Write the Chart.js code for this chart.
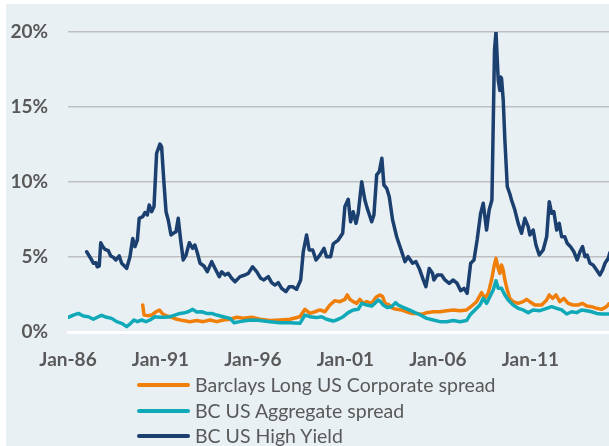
<!DOCTYPE html>
<html>
<head>
<meta charset="utf-8">
<script src="https://cdn.jsdelivr.net/npm/chart.js@4/dist/chart.umd.min.js"></script>
<style>
  html, body { margin: 0; padding: 0; background: #ffffff; }
  #panel { position: absolute; left: 6px; top: 4px; width: 603px; height: 442px; background: #e8f0f4; overflow: hidden; }
  #chart { position: absolute; left: 0; top: 0; }
  #legend { position: absolute; left: 0; top: 0; font-family: Lato, "Open Sans", sans-serif; font-size: 19.5px; color: #595959; }
  .row { position: absolute; left: 131px; height: 24px; white-space: nowrap; }
  .swatch { position: absolute; left: 0; top: 10px; width: 53px; height: 4px; border-radius: 2px; }
  .label { position: absolute; left: 58px; top: 0; line-height: 24px; }
</style>
</head>
<body>
<div id="panel">
  <canvas id="chart" width="603" height="442"></canvas>
  <div id="legend"></div>
</div>
<script>
// ---- data (decimal years / percent) ----
const hyDates = [1987.01,1987.28,1987.37,1987.51,1987.58,1987.69,1987.77,1987.88,
  1988.00,1988.18,1988.31,1988.45,1988.59,1988.77,1988.90,
  1989.08,1989.17,1989.35,1989.50,1989.62,1989.75,1989.85,
  1990.04,1990.16,1990.29,1990.39,1990.52,1990.65,1990.79,1990.97,
  1991.06,1991.19,1991.30,1991.42,1991.57,1991.69,1991.84,1991.96,
  1992.09,1992.23,1992.38,1992.56,1992.74,1992.86,1992.99,
  1993.14,1993.35,1993.53,1993.77,1993.95,
  1994.18,1994.31,1994.49,1994.66,1994.85,
  1995.03,1995.30,1995.57,1995.75,1995.98,
  1996.20,1996.42,1996.59,1996.83,
  1997.01,1997.19,1997.37,1997.55,1997.78,1997.96,
  1998.15,1998.36,1998.58,1998.72,1998.90,
  1999.04,1999.23,1999.41,1999.62,1999.84,1999.98,
  2000.20,2000.34,2000.61,2000.85,2000.97,
  2001.15,2001.28,2001.42,2001.57,2001.69,2001.88,
  2002.05,2002.18,2002.42,2002.54,2002.69,2002.83,2002.97,
  2003.08,2003.23,2003.37,2003.55,2003.77,2003.98,
  2004.22,2004.39,2004.63,2004.81,2004.99,
  2005.21,2005.35,2005.53,2005.71,2005.78,2005.96,
  2006.20,2006.38,2006.61,2006.83,
  2007.04,2007.23,2007.41,2007.58,2007.77,2007.95,
  2008.12,2008.31,2008.45,2008.63,2008.77,2008.92,
  2009.06,2009.14,2009.26,2009.35,2009.39,2009.44,2009.53,2009.62,2009.75,2009.89,2009.98,
  2010.16,2010.34,2010.52,2010.70,2010.88,2010.97,
  2011.15,2011.30,2011.48,2011.69,2011.88,
  2012.02,2012.15,2012.27,2012.42,2012.56,2012.69,2012.86,2012.99,
  2013.17,2013.35,2013.53,2013.68,2013.82,2013.95,
  2014.07,2014.22,2014.39,2014.58,2014.76,2014.90,
  2015.03,2015.21,2015.30];
const hyValues = [5.35,4.8,4.58,4.62,4.35,4.4,5.95,5.69,
  5.51,5.42,5.07,4.98,4.8,5.07,4.58,
  4.36,4.24,5.02,6.24,5.69,6.13,7.58,
  7.69,7.96,7.8,8.47,8.02,8.36,11.91,12.53,
  12.36,9.91,8.02,7.47,6.47,6.58,6.69,7.58,
  6.13,4.8,5.13,5.95,5.58,5.8,5.29,
  4.58,4.4,4.02,4.69,4.24,
  3.69,4.02,3.8,3.91,3.58,
  3.35,3.69,3.8,3.91,4.35,
  4.02,3.58,3.47,3.69,
  3.29,3.13,3.29,2.91,2.69,3.02,
  3.02,2.85,3.47,5.35,6.47,
  5.47,5.47,4.8,5.13,5.58,5.02,
  5.02,5.87,6.13,6.58,8.36,
  8.85,7.35,8.02,7.24,7.91,10.02,
  8.8,8.24,7.35,7.8,10.47,10.69,11.58,
  9.8,9.58,9.02,7.47,6.35,5.58,
  4.69,5.02,4.58,4.69,4.24,
  3.47,3.02,4.24,3.91,3.47,3.8,
  3.8,3.47,3.24,3.47,
  3.24,2.75,2.91,2.58,4.58,4.8,
  6.13,7.91,8.58,6.8,8.13,8.8,
  18.8,20.0,16.8,16.1,17.0,16.9,15.5,12.8,9.7,9.2,8.8,
  8.13,7.24,6.58,7.58,7.02,6.47,
  6.8,5.8,5.13,5.47,6.35,
  8.69,7.91,8.02,6.8,7.24,6.35,6.35,5.91,
  5.69,5.35,4.8,5.35,5.69,5.02,
  5.13,4.58,4.47,4.13,3.8,4.13,
  4.58,4.91,5.3];

const aggDates = [1986.02,1986.29,1986.56,1986.83,1987.10,1987.37,1987.64,1987.82,
  1988.09,1988.36,1988.63,1988.90,1989.17,1989.39,1989.57,1989.75,1989.98,
  1990.22,1990.43,1990.70,1990.97,1991.24,1991.51,1991.78,
  1992.05,1992.32,1992.50,1992.74,1992.96,1993.23,1993.50,1993.77,
  1994.04,1994.39,1994.76,1994.97,1995.30,1995.66,1996.02,1996.38,1996.92,
  1997.46,1998.00,1998.54,1998.81,1999.08,1999.44,1999.71,1999.98,
  2000.34,2000.61,2000.88,2001.15,2001.42,2001.69,2001.88,
  2002.15,2002.42,2002.59,2002.77,2002.90,2003.04,2003.26,2003.50,2003.71,2003.85,
  2004.12,2004.45,2004.76,2005.03,2005.39,2005.75,2006.11,2006.47,2006.83,
  2007.19,2007.55,2007.73,2008.00,2008.27,2008.45,2008.63,2008.81,2008.99,
  2009.14,2009.26,2009.44,2009.62,2009.80,2010.07,2010.34,2010.61,2010.88,
  2011.15,2011.51,2011.88,2012.15,2012.42,2012.69,2012.96,
  2013.23,2013.50,2013.77,2014.04,2014.31,2014.58,2014.85,2015.24];
const aggValues = [0.98,1.13,1.24,1.07,1.02,0.85,1.02,1.11,
  0.98,0.91,0.69,0.58,0.36,0.58,0.8,0.69,0.8,
  0.69,0.8,1.02,0.98,0.98,1.02,1.13,
  1.24,1.29,1.35,1.51,1.33,1.35,1.24,1.24,
  1.13,1.02,0.91,0.62,0.69,0.76,0.8,0.76,0.69,
  0.62,0.62,0.58,1.13,1.02,0.96,1.02,0.85,
  0.73,0.85,1.02,1.29,1.47,1.51,1.91,
  1.8,1.73,1.91,2.13,2.02,1.8,1.64,1.69,1.96,1.8,
  1.64,1.47,1.29,1.15,0.91,0.8,0.69,0.69,0.76,
  0.69,0.76,1.13,1.47,1.8,2.24,1.91,2.35,2.8,
  3.42,2.91,2.91,2.47,2.13,1.8,1.58,1.47,1.29,
  1.47,1.42,1.58,1.69,1.58,1.47,1.2,
  1.35,1.29,1.47,1.42,1.35,1.24,1.2,1.2];

const corpDates = [1990.04,1990.11,1990.29,1990.52,1990.76,1990.94,
  1991.12,1991.34,1991.61,1991.88,1992.23,1992.59,1992.96,1993.31,1993.68,
  1994.04,1994.39,1994.76,1995.12,1995.48,1995.93,1996.38,1996.92,1997.46,
  1998.00,1998.54,1998.81,1999.08,1999.35,1999.62,1999.89,
  2000.16,2000.43,2000.70,2000.97,2001.10,2001.24,2001.42,2001.61,2001.78,2001.96,
  2002.15,2002.42,2002.65,2002.86,2003.01,2003.14,2003.37,2003.55,2003.77,
  2004.04,2004.31,2004.58,2004.85,2005.12,2005.39,2005.75,2006.11,2006.47,2006.83,
  2007.19,2007.55,2007.82,2008.09,2008.36,2008.54,2008.72,2008.90,
  2009.03,2009.14,2009.26,2009.35,2009.44,2009.53,2009.62,2009.75,2009.89,
  2010.07,2010.34,2010.61,2010.79,2010.97,2011.24,2011.61,2011.88,
  2012.02,2012.20,2012.38,2012.59,2012.81,2013.04,2013.31,2013.58,2013.82,
  2014.04,2014.31,2014.58,2014.85,2015.12,2015.24];
const corpValues = [1.8,1.13,1.09,1.13,1.35,1.47,
  1.2,1.07,0.98,0.85,0.76,0.69,0.76,0.69,0.8,
  0.69,0.8,0.85,0.98,0.91,0.98,0.85,0.76,0.8,
  0.85,1.02,1.51,1.24,1.35,1.47,1.35,
  1.8,2.09,2.02,2.18,2.47,2.18,2.02,1.91,2.18,1.91,
  2.02,1.91,2.31,2.47,2.36,1.91,1.8,1.58,1.51,
  1.47,1.35,1.24,1.24,1.18,1.29,1.35,1.35,1.42,1.47,
  1.42,1.47,1.73,2.02,2.62,2.24,2.58,3.47,
  4.35,4.91,4.24,3.91,4.47,4.13,3.47,2.8,2.24,
  2.02,1.91,2.02,2.18,2.02,1.8,1.8,2.13,
  2.47,2.24,2.47,2.02,2.24,1.91,1.8,1.8,1.91,
  1.73,1.69,1.58,1.51,1.69,1.87];

const seriesNames = ["Barclays Long US Corporate spread", "BC US Aggregate spread", "BC US High Yield"];
const seriesColors = ["#f07f0a", "#10a9b8", "#1b3f6e"];
const xTickYears = [1986, 1991, 1996, 2001, 2006, 2011];
const xTickLabels = ["Jan-86", "Jan-91", "Jan-96", "Jan-01", "Jan-06", "Jan-11"];
const yTickValues = [0, 5, 10, 15, 20];
const yTickLabels = ["0%", "5%", "10%", "15%", "20%"];

function pts(xs, ys) { return xs.map((x, i) => ({ x: x, y: ys[i] })); }

const tickFont = { family: "Lato, 'Open Sans', sans-serif", size: 19, weight: "bold" };
const yTickFont = Object.assign({}, tickFont, { lineHeight: 0.6 });

const datasets = [
  { label: seriesNames[0], data: pts(corpDates, corpValues), borderColor: seriesColors[0], order: 2 },
  { label: seriesNames[1], data: pts(aggDates, aggValues), borderColor: seriesColors[1], order: 1 },
  { label: seriesNames[2], data: pts(hyDates, hyValues), borderColor: seriesColors[2], order: 0 }
].map(d => Object.assign(d, { borderWidth: 3.5, pointRadius: 0, tension: 0, fill: false,
  borderJoinStyle: "round", borderCapStyle: "round" }));

new Chart(document.getElementById("chart"), {
  type: "line",
  data: { datasets: datasets },
  options: {
    responsive: false,
    animation: false,
    layout: { padding: { left: 0, right: 0, top: 28, bottom: 64 } },
    plugins: { legend: { display: false }, tooltip: { enabled: false } },
    scales: {
      x: {
        type: "linear", min: 1986, max: 2015.25,
        afterBuildTicks: s => { s.ticks = xTickYears.map(v => ({ value: v })); },
        afterFit: s => { s.height = 50; },
        grid: { display: false, drawTicks: false },
        border: { display: true, color: "#ffffff", width: 3 },
        ticks: { font: tickFont, color: "#595959", padding: 16, maxRotation: 0, autoSkip: false,
          callback: (v, i) => xTickLabels[i] }
      },
      y: {
        min: 0, max: 20,
        afterBuildTicks: s => { s.ticks = yTickValues.map(v => ({ value: v })); },
        afterFit: s => { s.width = 62; },
        grid: { drawTicks: false, color: c => c.tick && c.tick.value === 0 ? "#ffffff" : "#bfbfbf",
          lineWidth: c => c.tick && c.tick.value === 0 ? 3 : 1.5 },
        border: { display: false },
        ticks: { font: yTickFont, color: "#595959", padding: 20,
          callback: (v, i) => yTickLabels[i] }
      }
    }
  }
});

// HTML legend built from the series arrays
const legend = document.getElementById("legend");
const rowTops = [369, 395, 420];
seriesNames.forEach((name, i) => {
  const row = document.createElement("div");
  row.className = "row";
  row.style.top = rowTops[i] + "px";
  const sw = document.createElement("span");
  sw.className = "swatch";
  sw.style.background = seriesColors[i];
  const lb = document.createElement("span");
  lb.className = "label";
  lb.textContent = name;
  row.appendChild(sw); row.appendChild(lb);
  legend.appendChild(row);
});
</script>
</body>
</html>
